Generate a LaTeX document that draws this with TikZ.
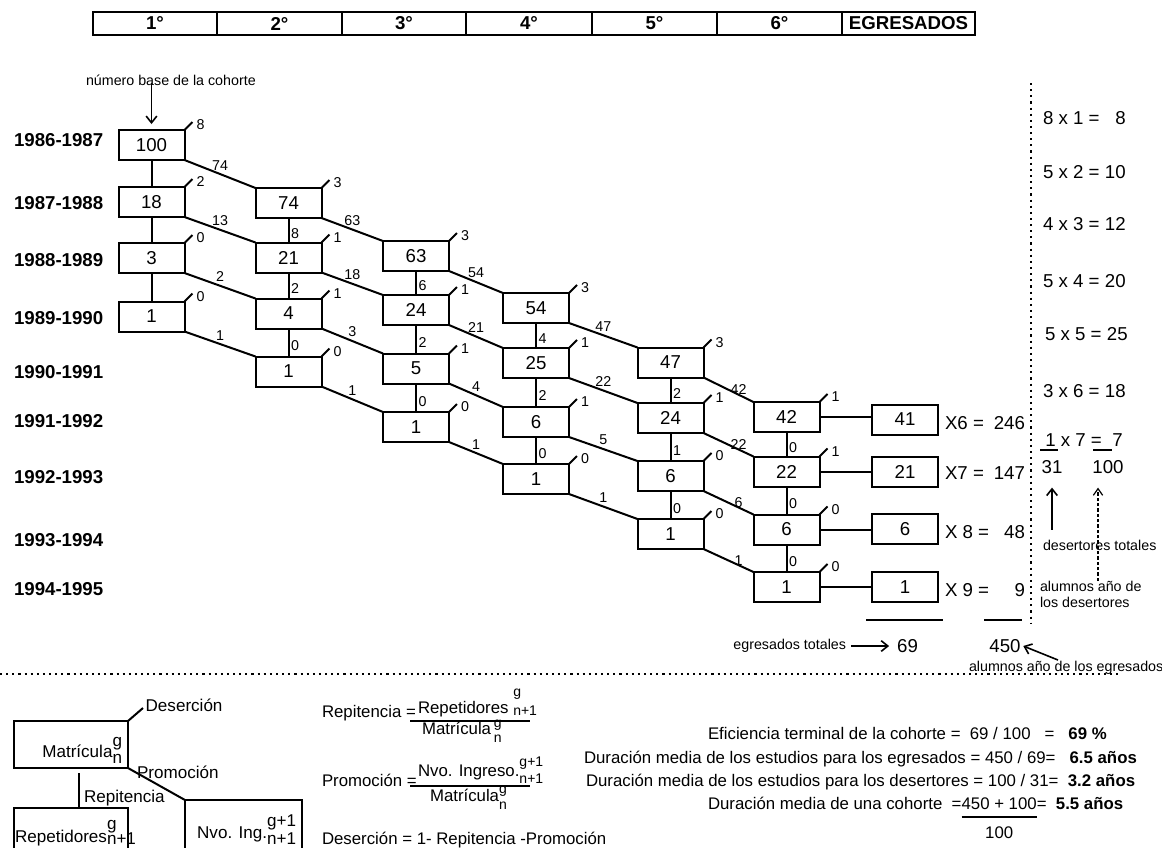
\documentclass[tikz,border=0pt]{standalone}
\usepackage{fontspec}
\setmainfont{Liberation Sans}
\usetikzlibrary{arrows.meta}
\newcommand\fsBig{\fontsize{14}{16}\selectfont}
\newcommand\fsSm{\fontsize{10.7}{12}\selectfont}
\newcommand\fsMid{\fontsize{12.6}{15}\selectfont}
\newcommand\fsLeg{\fontsize{12.8}{15}\selectfont}
\newcommand\fsSub{\fontsize{10.5}{12}\selectfont}
\newcommand\SupSub[4]{\rlap{\raisebox{#3}{#1}}\raisebox{#4}{#2}}
\newcommand\SupSubF[4]{{\fsSub\rlap{\raisebox{#3}{#1}}\raisebox{#4}{#2}}}
\begin{document}
\begin{tikzpicture}[x=0.75pt,y=-0.75pt,
  every node/.style={inner sep=0pt, outer sep=0pt},
  cbox/.style={draw, line width=1.5pt, minimum width=49.5pt, minimum height=22.5pt, font=\fsBig},
  hcell/.style={draw, line width=1.5pt, minimum height=17.25pt, font=\fsBig\bfseries},
  conn/.style={line width=1.5pt},
  dlab/.style={font=\fsSm, pos=0.5, anchor=south, yshift=3pt},
  dlabE/.style={font=\fsSm, pos=0.7, anchor=south, yshift=0pt},
  vlab/.style={font=\fsSm, pos=0.62, anchor=west, xshift=2pt},
  clab/.style={font=\fsSm, anchor=west, xshift=3pt, yshift=-2pt},
  year/.style={font=\fsBig\bfseries, anchor=west},
  small/.style={font=\fsSm},
  big/.style={font=\fsBig},
  fmid/.style={font=\fsMid},
  fleg/.style={font=\fsLeg},
  lbox/.style={draw, line width=1.5pt},
  arr/.style={line width=1.2pt, -{Straight Barb[length=5pt,width=8pt]}},
  darr/.style={line width=0.9pt, dash pattern=on 2.5pt off 1.5pt, -{Straight Barb[length=5pt,width=7pt]}},
  dotline/.style={line width=1.6pt, dash pattern=on 1.6pt off 3pt},
  sumline/.style={line width=1.3pt},
]
\useasboundingbox (0,0) rectangle (1162,847);
\clip (0,0) rectangle (1162,847);
\fill[white] (0,0) rectangle (1162,847);

% header
\node[hcell, minimum width=93pt]    (h1) at (155,23.5)   {1°};
\node[hcell, minimum width=93.75pt] (h2) at (279.5,23.5) {2°};
\node[hcell, minimum width=93pt]    (h3) at (404,23.5)   {3°};
\node[hcell, minimum width=94.5pt]  (h4) at (529,23.5)   {4°};
\node[hcell, minimum width=93.75pt] (h5) at (654.5,23.5) {5°};
\node[hcell, minimum width=93.75pt] (h6) at (779.5,23.5) {6°};
\node[hcell, minimum width=99.75pt] (h7) at (908.5,23.5) {EGRESADOS};

% year labels
\node[year] (y1) at (14,140) {1986-1987};
\node[year] (y2) at (14,203) {1987-1988};
\node[year] (y3) at (14,260) {1988-1989};
\node[year] (y4) at (14,318) {1989-1990};
\node[year] (y5) at (14,372) {1990-1991};
\node[year] (y6) at (14,421) {1991-1992};
\node[year] (y7) at (14,477) {1992-1993};
\node[year] (y8) at (14,540) {1993-1994};
\node[year] (y9) at (14,589) {1994-1995};

% boxes with corner ticks
\newcommand\cb[5]{%
  \node[cbox] (#1) at (#2,#3) {#4};
  \draw[conn] (#1.north east) -- ++(8,-8) coordinate (#1t);
  \node[clab] (#1c) at (#1t) {#5};
}
\cb{a1}{151.5}{145}{100}{8}
\cb{a2}{151.5}{202}{18}{2}
\cb{a3}{151.5}{258}{3}{0}
\cb{a4}{151.5}{316.5}{1}{0}
\cb{b1}{288.5}{203}{74}{3}
\cb{b2}{288.5}{257.5}{21}{1}
\cb{b3}{288.5}{313.5}{4}{1}
\cb{b4}{288.5}{371.5}{1}{0}
\cb{c1}{416}{256}{63}{3}
\cb{c2}{416}{310}{24}{1}
\cb{c3}{416}{368.5}{5}{1}
\cb{c4}{416}{427}{1}{0}
\cb{d1}{536}{308}{54}{3}
\cb{d2}{536}{363}{25}{1}
\cb{d3}{536}{422}{6}{1}
\cb{d4}{536}{479}{1}{0}
\cb{e1}{670.5}{362.5}{47}{3}
\cb{e2}{670.5}{418}{24}{1}
\cb{e3}{670.5}{476}{6}{0}
\cb{e4}{670.5}{534}{1}{0}
\cb{f1}{786.5}{417}{42}{1}
\cb{f2}{786.5}{471.5}{22}{1}
\cb{f3}{786.5}{529.5}{6}{0}
\cb{f4}{786.5}{587}{1}{0}
\node[cbox] (g1) at (905,419.5) {41};
\node[cbox] (g2) at (905,471.5) {21};
\node[cbox] (g3) at (905,529) {6};
\node[cbox] (g4) at (905,587) {1};

% verticals
\draw[conn] (a1.south) -- (a2.north);
\draw[conn] (a2.south) -- (a3.north);
\draw[conn] (a3.south) -- (a4.north);
\draw[conn] (b1.south) -- node[vlab]{8} (b2.north);
\draw[conn] (b2.south) -- node[vlab]{2} (b3.north);
\draw[conn] (b3.south) -- node[vlab]{0} (b4.north);
\draw[conn] (c1.south) -- node[vlab]{6} (c2.north);
\draw[conn] (c2.south) -- node[vlab]{2} (c3.north);
\draw[conn] (c3.south) -- node[vlab]{0} (c4.north);
\draw[conn] (d1.south) -- node[vlab]{4} (d2.north);
\draw[conn] (d2.south) -- node[vlab]{2} (d3.north);
\draw[conn] (d3.south) -- node[vlab]{0} (d4.north);
\draw[conn] (e1.south) -- node[vlab]{2} (e2.north);
\draw[conn] (e2.south) -- node[vlab]{1} (e3.north);
\draw[conn] (e3.south) -- node[vlab]{0} (e4.north);
\draw[conn] (f1.south) -- node[vlab]{0} (f2.north);
\draw[conn] (f2.south) -- node[vlab]{0} (f3.north);
\draw[conn] (f3.south) -- node[vlab]{0} (f4.north);

% diagonals
\draw[conn] (a1.south east) -- node[dlab]{74} (b1.north west);
\draw[conn] (a2.south east) -- node[dlab]{13} (b2.north west);
\draw[conn] (a3.south east) -- node[dlab]{2}  (b3.north west);
\draw[conn] (a4.south east) -- node[dlab]{1}  (b4.north west);
\draw[conn] (b1.south east) -- node[dlab]{63} (c1.north west);
\draw[conn] (b2.south east) -- node[dlab]{18} (c2.north west);
\draw[conn] (b3.south east) -- node[dlab]{3}  (c3.north west);
\draw[conn] (b4.south east) -- node[dlab]{1}  (c4.north west);
\draw[conn] (c1.south east) -- node[dlab]{54} (d1.north west);
\draw[conn] (c2.south east) -- node[dlab]{21} (d2.north west);
\draw[conn] (c3.south east) -- node[dlab]{4}  (d3.north west);
\draw[conn] (c4.south east) -- node[dlab]{1}  (d4.north west);
\draw[conn] (d1.south east) -- node[dlab]{47} (e1.north west);
\draw[conn] (d2.south east) -- node[dlab]{22} (e2.north west);
\draw[conn] (d3.south east) -- node[dlab]{5}  (e3.north west);
\draw[conn] (d4.south east) -- node[dlab]{1}  (e4.north west);
\draw[conn] (e1.south east) -- node[dlabE]{42} (f1.north west);
\draw[conn] (e2.south east) -- node[dlabE]{22} (f2.north west);
\draw[conn] (e3.south east) -- node[dlabE]{6}  (f3.north west);
\draw[conn] (e4.south east) -- node[dlabE]{1}  (f4.north west);

% to egresados
\draw[conn] (f1.east) -- (f1.east -| g1.west);
\draw[conn] (f2.east) -- (f2.east -| g2.west);
\draw[conn] (f3.east) -- (f3.east -| g3.west);
\draw[conn] (f4.east) -- (f4.east -| g4.west);

% products
\node[big, anchor=west] (p6) at (945,423) {\makebox[60pt]{X6 =\hfill 246}};
\node[big, anchor=west] (p7) at (945,473) {\makebox[60pt]{X7 =\hfill 147}};
\node[big, anchor=west] (p8) at (945,532) {\makebox[60pt]{X 8 =\hfill 48}};
\node[big, anchor=west] (p9) at (945,590) {\makebox[60pt]{X 9 =\hfill 9}};

% number base
\node[small, anchor=west] (nb) at (86,80) {número base de la cohorte};
\coordinate (nbA) at (a1.north |- nb.south);
\draw[arr] ([yshift=2pt]nbA) -- ([yshift=4.5pt]a1.north);

% sums
\draw[sumline] (866,620) -- (943,620);
\draw[sumline] (984,620) -- (1022,620);
\node[small, anchor=east] (egt) at (846,646) {egresados totales};
\node[big] (n69) at (907.5,646) {69};
\draw[arr] ([xshift=4pt]egt.east) -- ([xshift=-6pt]n69.west);
\node[big] (n450) at (1005,646) {450};
\node[small, anchor=west] (ale) at (969,668) {alumnos año de los egresados};
\coordinate (aleT) at ([xshift=66.75pt,yshift=1pt]ale.north west);
\draw[arr] (aleT) -- ([xshift=2pt]n450.east);

% right column
\draw[dotline] (1031,83) -- (1031,623);
\node[big, anchor=west] (r1) at (1043,118) {\makebox[62pt]{8 x 1 =\hfill 8}};
\node[big, anchor=west] (r2) at (1043,172) {\makebox[62pt]{5 x 2 =\hfill 10}};
\node[big, anchor=west] (r3) at (1043,224) {\makebox[62pt]{4 x 3 =\hfill 12}};
\node[big, anchor=west] (r4) at (1043,281) {\makebox[62pt]{5 x 4 =\hfill 20}};
\node[big, anchor=west] (r5) at (1045,334) {\makebox[62pt]{5 x 5 =\hfill 25}};
\node[big, anchor=west] (r6) at (1043,391) {\makebox[62pt]{3 x 6 =\hfill 18}};
\node[big, anchor=west] (r7) at (1040,440) {\makebox[62pt]{\hspace{4pt}1 x 7 =\hfill 7}};
\draw[sumline] (1040,450) -- (1058,450);
\draw[sumline] (1093,450) -- (1112,450);
\node[big] (n31) at (1052,467) {31};
\node[big] (n100) at (1108,467) {100};
\node[small, anchor=west] (dt) at (1043,545) {desertores totales};
\node[small, anchor=north west, align=left, font=\fontsize{10.7}{12}\selectfont] (ad) at (1040,581) {alumnos año de\\los desertores};
\coordinate (dtA) at (n31.center |- dt.north);
\coordinate (tipA) at ([yshift=-10.5pt]n31.south);
\draw[arr] ([yshift=7.5pt]dtA) -- (tipA);
\coordinate (adA) at (1098,0 |- ad.north);
\coordinate (adB) at (1098,0 |- tipA);
\draw[darr] (adA) -- (adB);

% separator
\draw[dotline] (0,674) -- (1120,674);

% legend diagram
\node[lbox, minimum width=85.5pt, minimum height=35.25pt] (mbox) at (71,744.5) {};
\node[fleg, anchor=east] (mtxt) at (122,750) {Matrícula\SupSub{g}{n}{0.65em}{-0.35em}};
\draw[conn] (mbox.north east) -- ++(15,-13) coordinate (mdt);
\node[fleg, anchor=west, xshift=2pt, yshift=2pt] (des) at (mdt) {Deserción};
\node[lbox, minimum width=85.5pt, minimum height=46.5pt] (rbox) at (71,839) {};
\node[lbox, minimum width=87.75pt, minimum height=46.5pt] (nbox) at (243.5,831) {};
\draw[conn] ([xshift=48.75pt,yshift=-3.75pt]mbox.south west) -- ([xshift=48.75pt]rbox.north west);
\draw[conn] (mbox.south east) -- (nbox.north west);
\node[fleg, anchor=west] (rlab) at (84,798) {Repitencia};
\node[fleg, anchor=west] (plab) at (137,772) {Promoción};
\node[fleg, anchor=west] (rtxt) at (15,833) {Repetidores\SupSub{g}{n+1}{0.75em}{-0.15em}};
\node[fleg, anchor=east] (ntxt) at (296,830) {Nvo. Ing.\SupSub{g+1}{n+1}{0.7em}{-0.35em}};

% formulas
\node[fmid, anchor=west] (frep) at (322,713) {Repitencia =};
\draw[sumline] (410,721) -- (530,721);
\node[fmid, anchor=west] (frepn) at (418,703) {Repetidores\ \SupSubF{g}{n+1}{1.2em}{-0.15em}};
\node[fmid, anchor=west] (frepd) at (422,731) {Matrícula\,\SupSubF{g}{n}{0.55em}{-0.55em}};
\node[fmid, anchor=west] (fpro) at (322,780) {Promoción =};
\draw[sumline] (410,786) -- (530,786);
\node[fmid, anchor=west] (fpron) at (418,770) {Nvo. Ingreso.\SupSubF{g+1}{n+1}{0.75em}{-0.45em}};
\node[fmid, anchor=west] (fprod) at (430,798) {Matrícula\SupSubF{g}{n}{0.55em}{-0.6em}};
\node[fmid, anchor=west] (fdes) at (322,840) {Deserción = 1- Repitencia -Promoción};

% indicators
\node[fmid, anchor=base west] (i1) at (708,739) {Eficiencia terminal de la cohorte =\ \ 69 / 100\ \ \ =\ \ \ \textbf{69 \%}};
\node[fmid, anchor=base west] (i2) at (584,763) {Duración media de los estudios para los egresados = 450 / 69=\ \ \ \textbf{6.5 años}};
\node[fmid, anchor=base west] (i3) at (586,786) {Duración media de los estudios para los desertores = 100 / 31=\ \ \textbf{3.2 años}};
\node[fmid, anchor=base west] (i4a) at (708,809) {Duración media de una cohorte\ \ =\ };
\node[fmid, anchor=base west] (i4b) at (i4a.base east) {450 + 100};
\node[fmid, anchor=base west] (i4c) at (i4b.base east) {=\ \ \textbf{5.5 años}};
\draw[sumline] ([yshift=-6pt]i4b.base west) -- ([yshift=-6pt]i4b.base east);
\node[fmid] (i4d) at (i4b.center |- 0,833) {100};
\end{tikzpicture}
\end{document}
